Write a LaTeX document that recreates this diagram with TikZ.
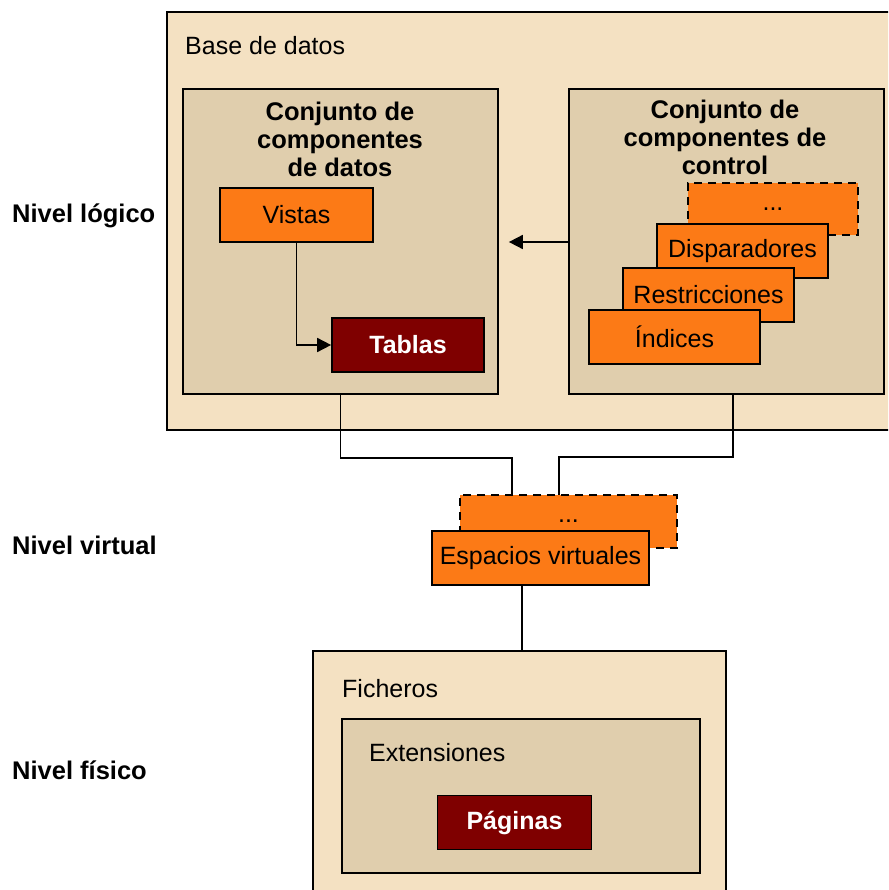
\documentclass[tikz,border=0pt]{standalone}
\usepackage{fontspec}
\setmainfont{Liberation Sans}
\usetikzlibrary{arrows.meta}
\definecolor{beige}{HTML}{F4E1C2}
\definecolor{tan}{HTML}{E0CEAD}
\definecolor{orng}{HTML}{FC7A16}
\definecolor{maroon}{HTML}{7F0000}
\tikzset{
  frame/.style={draw=black, line width=1.7pt},
  box/.style={frame, inner sep=0pt, align=center, font=\fontsize{25}{28}\selectfont},
  obox/.style={box, fill=orng},
  mbox/.style={box, fill=maroon, text=white, font=\fontsize{25}{28}\selectfont\bfseries},
  dbox/.style={obox, draw=black, dash pattern=on 8pt off 6pt},
  plain/.style={inner sep=0pt, anchor=west, font=\fontsize{25}{28}\selectfont},
  title/.style={inner sep=0pt, align=center, font=\fontsize{25.5}{28}\selectfont\bfseries},
  level/.style={inner sep=0pt, anchor=west, font=\fontsize{25.5}{28}\selectfont\bfseries},
  conn/.style={draw=black, line width=1.7pt},
  arr/.style={conn, -{Triangle[length=14pt,width=14pt]}},
}
% boxes given by their corners in pixel units
\newcommand{\rbox}[6]{%
  \node[#1, minimum width={#4-#2}, minimum height={#5-#3}] (#6) at ({(#2+#4)/2},{(#3+#5)/2}) {};}
\begin{document}
\begin{tikzpicture}[x=1pt,y=-1pt]
\useasboundingbox (0,0) rectangle (888,890);
\begin{scope}
\clip (0,0) rectangle (888,890);
% logical level
\rbox{frame, fill=beige}{167}{12}{900}{430}{bd}
\node[plain] (bdlabel) at (185,46) {Base de datos};
\rbox{frame, fill=tan}{183}{89}{498}{394}{cdatos}
\rbox{frame, fill=tan}{569}{89}{884}{394}{cctrl}
\node[title] (tdatos) at (340,139) {Conjunto de\\componentes\\de datos};
\node[title] (tctrl) at (725,137) {Conjunto de\\componentes de\\control};
\node[obox, minimum width=153pt, minimum height=54pt] (vistas) at (296.5,215) {Vistas};
\node[mbox, minimum width=152pt, minimum height=54pt] (tablas) at (408,345) {Tablas};
\draw[arr] (vistas.south) |- (tablas.west);
\node[dbox, minimum width=170pt, minimum height=52pt] (cdots) at (773,209) {...};
\node[obox, minimum width=171pt, minimum height=54pt] (disp) at (742.5,251) {Disparadores};
\node[obox, minimum width=171pt, minimum height=54pt] (restr) at (708.5,295) {Restricciones};
\node[obox, minimum width=171pt, minimum height=54pt] (indices) at (674.5,337) {Índices};
\draw[arr, shorten >=10pt] (cctrl.west |- 0,242) -- (cdatos.east |- 0,242);
% virtual level
\node[dbox, minimum width=217pt, minimum height=53pt] (vdots) at (568.5,521.5) {...};
\node[obox, minimum width=217pt, minimum height=54pt] (esp) at (540.5,558) {Espacios virtuales};
\coordinate (cR) at (733,394);
\coordinate (jL) at (512,495);
\coordinate (jR) at (559,495);
\draw[conn] (cdatos.south) -- ++(0,63) -| (jL);
\draw[conn] (cR) -- ++(0,63) -| (jR);
% physical level
\rbox{frame, fill=beige}{313}{651}{726}{910}{fich}
\node[plain] (fichlabel) at (342,689) {Ficheros};
\rbox{frame, fill=tan}{342}{719}{700}{873}{ext}
\node[plain] (extlabel) at (369,753) {Extensiones};
\node[mbox, minimum width=154pt, minimum height=54pt] (pag) at (514.5,822.5) {Páginas};
\coordinate (eS) at (522,585);
\draw[conn] (eS) -- (eS |- fich.north);
% level labels
\node[level] (nl) at (12,216) {Nivel lógico};
\node[level] (nv) at (12,545) {Nivel virtual};
\node[level] (nf) at (12,770) {Nivel físico};
\end{scope}
\end{tikzpicture}
\end{document}
